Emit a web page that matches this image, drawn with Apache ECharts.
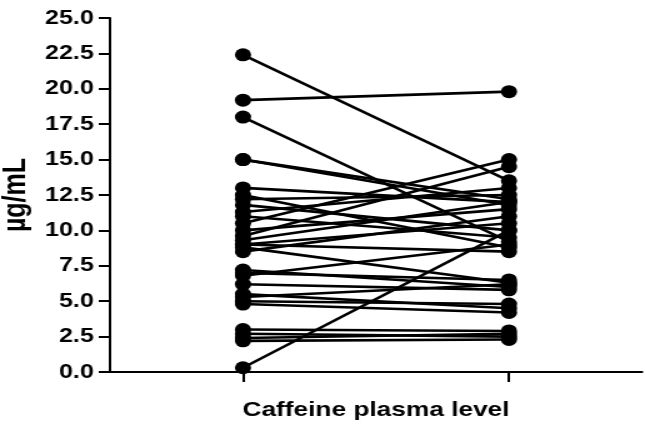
<!DOCTYPE html>
<html>
<head>
<meta charset="utf-8">
<script src="https://cdn.jsdelivr.net/npm/echarts@6/dist/echarts.min.js"></script>
<style>
  html, body { margin: 0; padding: 0; background: #fff; }
  /* the source picture is stretched sideways, so the chart is drawn narrower and scaled */
  #chart { width: 516px; height: 440px; transform: scaleX(1.25); transform-origin: 0 0; }
</style>
</head>
<body>
<div id="chart"></div>
<script>
var groupPos = [1, 2];
var beforeVals = [22.4, 19.2, 18.0, 15.0, 15.0, 13.0, 12.5, 12.2, 11.8, 11.3, 11.0, 10.5, 10.0, 9.6, 9.3, 9.0,
    9.0, 8.8, 8.5, 7.2, 7.0, 6.8, 6.2, 5.5, 5.3, 5.0, 4.8, 3.0, 2.7, 2.4, 2.2, 0.3];
var afterVals = [13.5, 19.8, 9.2, 11.8, 12.2, 12.0, 8.8, 12.5, 10.0, 13.0, 9.5, 15.0, 11.5, 14.5, 12.0, 8.5,
    10.5, 6.3, 11.0, 6.0, 6.5, 9.0, 5.8, 4.5, 6.2, 4.8, 4.2, 2.9, 2.5, 2.7, 2.3, 10.0];
var yTicks = [0, 2.5, 5, 7.5, 10, 12.5, 15, 17.5, 20, 22.5, 25];

var chart = echarts.init(document.getElementById('chart'));

// one little line per subject: before -> after
var seriesList = beforeVals.map((v, i) => {
    return {
        type: 'line',
        data: [[groupPos[0], v], [groupPos[1], afterVals[i]]],
        symbol: 'circle',
        symbolSize: 13,
        lineStyle: { color: '#000', width: 2.6 },
        itemStyle: { color: '#000' },
        silent: true,
        animation: false
    };
});

var option = {
    backgroundColor: '#fff',
    grid: { left: 88, right: 2.4, top: 18, bottom: 68, outerBoundsMode: 'none' },
    xAxis: {
        type: 'value',
        min: 0.5,
        max: 2.5,
        name: 'Caffeine plasma level',
        nameLocation: 'middle',
        nameGap: 28,
        nameTextStyle: { fontFamily: 'Liberation Sans', fontWeight: 'bold', fontSize: 21, color: '#000' },
        axisLine: { lineStyle: { color: '#000', width: 2 } },
        axisTick: { show: true, length: 10, customValues: groupPos, lineStyle: { color: '#000', width: 2 } },
        axisLabel: { show: false },
        splitLine: { show: false }
    },
    yAxis: {
        type: 'value',
        min: yTicks[0],
        max: yTicks[yTicks.length - 1],
        interval: 2.5,
        name: 'µg/mL',
        nameLocation: 'middle',
        nameRotate: 90,
        nameGap: 60,
        nameTextStyle: { fontFamily: 'Liberation Sans', fontWeight: 'bold', fontSize: 25, color: '#000' },
        axisLine: { show: true, lineStyle: { color: '#000', width: 2 } },
        axisTick: { show: true, length: 9, lineStyle: { color: '#000', width: 2 } },
        axisLabel: {
            margin: 13,
            fontFamily: 'Liberation Sans',
            fontWeight: 'bold',
            fontSize: 20,
            color: '#000',
            formatter: v => v.toFixed(1)
        },
        splitLine: { show: false }
    },
    series: seriesList
};

chart.setOption(option);
</script>
</body>
</html>
